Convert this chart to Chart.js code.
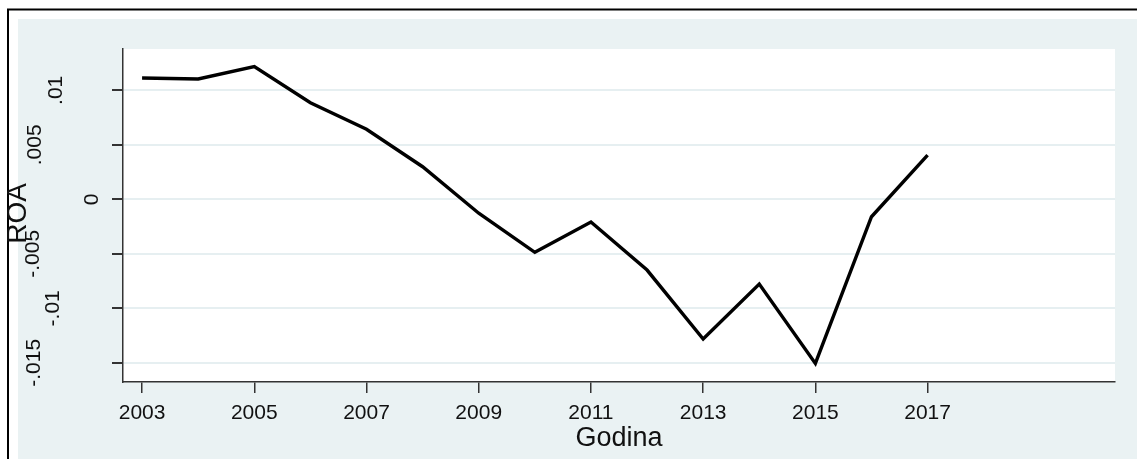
<!DOCTYPE html>
<html>
<head>
<meta charset="utf-8">
<script src="https://cdn.jsdelivr.net/npm/chart.js@4.4.1/dist/chart.umd.min.js"></script>
<style>
  html, body { margin: 0; padding: 0; background: #fff; }
  #wrap { position: relative; width: 1137px; height: 459px; }
</style>
</head>
<body>
<div id="wrap"><canvas id="roaChart"></canvas></div>
<script>
// data
const years = [2003, 2004, 2005, 2006, 2007, 2008, 2009, 2010, 2011, 2012, 2013, 2014, 2015, 2016, 2017];
const roa = [0.01113, 0.01104, 0.01217, 0.00886, 0.00642, 0.00299, -0.00128, -0.00486, -0.00208, -0.00649, -0.01282, -0.00777, -0.01505, -0.0016, 0.00406];

const xTicks = [2003, 2005, 2007, 2009, 2011, 2013, 2015, 2017];
const yTicks = [-0.015, -0.01, -0.005, 0, 0.005, 0.01];
const yTickLabels = ['-.015', '-.01', '-.005', '0', '.005', '.01'];
const xTitle = 'Godina';
const yTitle = 'ROA';

const FONT = '"Liberation Sans", Arial, sans-serif';
const BG = '#EAF2F3';
const AXIS = '#333333';

// frame, backgrounds and the rotated y labels (stata look)
const stataFrame = {
  id: 'stataFrame',
  beforeDraw(chart) {
    const { ctx, width, height, chartArea } = chart;
    ctx.save();
    ctx.fillStyle = '#fff';
    ctx.fillRect(0, 0, width, height);
    ctx.fillStyle = BG;
    ctx.fillRect(18, 19, width - 18, height - 19);
    ctx.strokeStyle = '#000';
    ctx.lineWidth = 2;
    ctx.beginPath();
    ctx.moveTo(8, height);
    ctx.lineTo(8, 9.5);
    ctx.lineTo(width, 9.5);
    ctx.stroke();
    ctx.fillStyle = '#fff';
    ctx.fillRect(chartArea.left, chartArea.top, chartArea.right - chartArea.left, chartArea.bottom - chartArea.top);
    ctx.restore();
  },
  afterDraw(chart, args, opts) {
    const { ctx, chartArea } = chart;
    const y = chart.scales.y;
    ctx.save();
    ctx.fillStyle = '#111';
    ctx.textAlign = 'center';
    ctx.textBaseline = 'middle';
    ctx.font = '21px ' + FONT;
    yTicks.forEach((v, i) => {
      ctx.save();
      ctx.translate(chartArea.left - opts.labelGap[i], y.getPixelForValue(v));
      ctx.rotate(-Math.PI / 2);
      ctx.fillText(yTickLabels[i], 0, 0);
      ctx.restore();
    });
    // axis titles
    ctx.font = '28px ' + FONT;
    ctx.save();
    ctx.translate(18, (chartArea.top + chartArea.bottom) / 2 - 2);
    ctx.rotate(-Math.PI / 2);
    ctx.fillText(yTitle, 0, 0);
    ctx.restore();
    ctx.font = '27px ' + FONT;
    ctx.fillText(xTitle, (chartArea.left + chartArea.right) / 2, 439);
    ctx.restore();
  }
};

new Chart(document.getElementById('roaChart'), {
  type: 'line',
  data: {
    datasets: [{
      label: yTitle,
      data: years.map((yr, i) => ({ x: yr, y: roa[i] })),
      borderColor: '#000',
      borderWidth: 3.4,
      pointRadius: 0,
      tension: 0,
      fill: false
    }]
  },
  options: {
    responsive: true,
    maintainAspectRatio: false,
    animation: false,
    layout: { padding: { top: 49, right: 22, bottom: 0, left: 0 } },
    scales: {
      x: {
        type: 'linear',
        min: 2002.66,
        max: 2020.34,
        afterBuildTicks: s => { s.ticks = xTicks.map(v => ({ value: v })); },
        afterFit: s => { s.height = 77; },
        grid: { drawOnChartArea: false, tickLength: 11, tickColor: AXIS, lineWidth: 1.5 },
        border: { color: AXIS, width: 1.5 },
        ticks: {
          color: '#111',
          font: { family: FONT, size: 21 },
          padding: 8,
          maxRotation: 0,
          autoSkip: false,
          callback: v => String(v)
        }
      },
      y: {
        min: -0.01676,
        max: 0.01379,
        afterBuildTicks: s => { s.ticks = yTicks.map(v => ({ value: v })); },
        afterFit: s => { s.width = 123; },
        grid: { color: '#E6EFF1', lineWidth: 2, tickLength: 11, tickColor: AXIS },
        border: { color: AXIS, width: 1.5 },
        ticks: { display: false }
      }
    },
    plugins: {
      legend: { display: false },
      tooltip: { enabled: false },
      stataFrame: { labelGap: [88.5, 69.5, 89.5, 30.5, 87.5, 66.5] }
    }
  },
  plugins: [stataFrame]
});
</script>
</body>
</html>
